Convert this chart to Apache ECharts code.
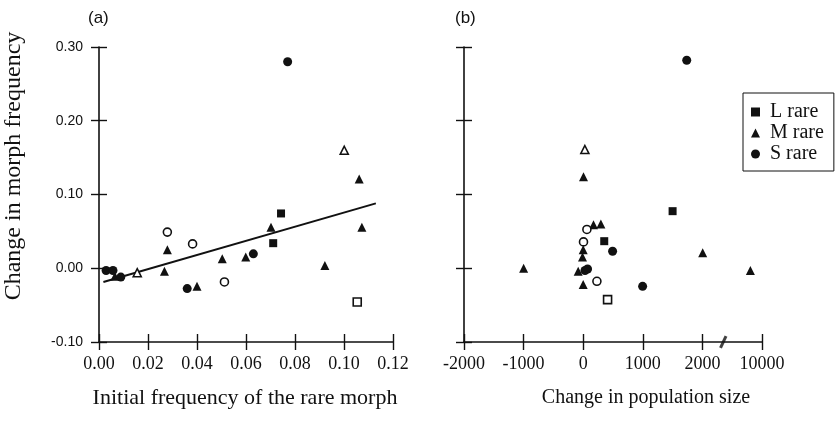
<!DOCTYPE html>
<html><head><meta charset="utf-8">
<script src="https://cdn.jsdelivr.net/npm/echarts@6/dist/echarts.min.js"></script>
<style>html,body{margin:0;padding:0;background:#fff}#c{width:839px;height:430px}</style>
</head><body><div id="c"></div>
<script>
// ---------- Panel (a): initial frequency of the rare morph vs change in morph frequency
const aLFilled = [[0.0743, 0.0743], [0.0711, 0.034]];
const aLOpen = [[0.1054, -0.0457]];
const aMFilled = [[0.0065, -0.011], [0.0267, -0.004], [0.0279, 0.025], [0.040, -0.0245], [0.0503, 0.013],
  [0.0599, 0.0154], [0.0702, 0.0557], [0.0922, 0.0036], [0.1062, 0.121], [0.1073, 0.0557]];
const aMOpen = [[0.0156, -0.006], [0.1001, 0.160]];
const aSFilled = [[0.0029, -0.003], [0.0057, -0.003], [0.0089, -0.012], [0.036, -0.0276], [0.063, 0.0195], [0.077, 0.28]];
const aSOpen = [[0.0279, 0.049], [0.0382, 0.033], [0.0512, -0.0186]];
const fitX = [0.0018, 0.113];
const fitY = [-0.0186, 0.088];

// ---------- Panel (b): change in population size vs change in morph frequency
const bLFilled = [[1500, 0.0774], [353, 0.0367]];
const bLOpen = [[409, -0.0425]];
const bMFilled = [[-1000, 0.0], [-84, -0.004], [-12, 0.0154], [0, 0.025], [0, -0.022], [5, 0.124],
  [173, 0.059], [297, 0.06], [2005, 0.021], [7700, -0.003]];
const bMOpen = [[28, 0.161]];
const bSFilled = [[73, -0.001], [30, -0.003], [493, 0.023], [997, -0.0245], [1737, 0.282]];
const bSOpen = [[62, 0.0526], [5, 0.0357], [230, -0.0177]];

// tick labels
const bXTickLabels = ['-2000', '-1000', '0', '1000', '2000', '10000'];
const legendNames = ['L rare', 'M rare', 'S rare'];

// broken x axis of panel (b): values above breakStart are compressed so that 10000 sits at the 3000 slot
const breakStart = 2350, breakEndReal = 10000, breakEndSlot = 3000;
function bx(v) {
  return v <= breakStart ? v : breakStart + (v - breakStart) * (breakEndSlot - breakStart) / (breakEndReal - breakStart);
}
const mapB = arr => arr.map(p => [bx(p[0]), p[1]]);

const SERIF = 'Liberation Serif';
const SANS = 'Liberation Sans';
const INK = '#111';

const chart = echarts.init(document.getElementById('c'), null, {renderer: 'canvas'});

function axisPair(pos, grid, min, max, interval, labelOpt) {
  const base = {
    gridIndex: grid, type: 'value', min: min, max: max, interval: interval, position: pos,
    splitLine: {show: false}
  };
  const outer = Object.assign({}, base, {
    axisLine: {show: true, onZero: false, lineStyle: {color: INK, width: 1.6}},
    axisTick: {show: true, inside: false, length: 8, lineStyle: {color: INK, width: 1.4}},
    axisLabel: labelOpt
  });
  const inner = Object.assign({}, base, {
    axisLine: {show: false, onZero: false},
    axisTick: {show: true, inside: true, length: 8, lineStyle: {color: INK, width: 1.4}},
    axisLabel: {show: false}
  });
  return [outer, inner];
}

const xA = axisPair('bottom', 0, 0, 0.12, 0.02, {
  show: true, margin: 13, color: INK, fontFamily: SERIF, fontSize: 18,
  formatter: v => v.toFixed(2)
});
const xB = axisPair('bottom', 1, -2000, 3000, 1000, {
  show: true, margin: 13, color: INK, fontFamily: SERIF, fontSize: 18,
  formatter: v => bXTickLabels[Math.round((v + 2000) / 1000)]
});
const yA = axisPair('left', 0, -0.1, 0.3, 0.1, {
  show: true, margin: 16, color: INK, fontFamily: SANS, fontSize: 14,
  formatter: v => v.toFixed(2)
});
const yB = axisPair('left', 1, -0.1, 0.3, 0.1, {show: false});

function filled(name, sym, size, data, xi, yi) {
  return {name: name, type: 'scatter', xAxisIndex: xi, yAxisIndex: yi, symbol: sym, symbolSize: size,
    data: data, itemStyle: {color: INK, opacity: 1}, z: 3};
}
function open(name, sym, size, data, xi, yi) {
  return {name: name, type: 'scatter', xAxisIndex: xi, yAxisIndex: yi, symbol: sym, symbolSize: size,
    data: data, itemStyle: {color: '#fff', borderColor: INK, borderWidth: 1.6, opacity: 1}, z: 4};
}

const option = {
  animation: false,
  backgroundColor: '#fff',
  grid: [
    {left: 99, top: 47, width: 294, height: 295},
    {left: 464, top: 47, width: 298, height: 295}
  ],
  xAxis: [xA[0], xA[1], xB[0], xB[1]],
  yAxis: [yA[0], yA[1], yB[0], yB[1]],
  legend: {
    orient: 'vertical', left: 743, top: 93,
    data: legendNames,
    itemWidth: 9, itemHeight: 9, itemGap: 1,
    padding: [9, 10, 7, 8],
    borderColor: INK, borderWidth: 1,
    textStyle: {fontFamily: SERIF, fontSize: 20, color: INK, lineHeight: 19, padding: [0, 0, 0, 5]},
    selectedMode: false
  },
  graphic: [
    {type: 'text', left: 88, top: 10, style: {text: '(a)', fontFamily: SANS, fontSize: 17, fill: INK}},
    {type: 'text', left: 455, top: 10, style: {text: '(b)', fontFamily: SANS, fontSize: 17, fill: INK}},
    {type: 'text', x: 14, y: 166, rotation: Math.PI / 2,
      style: {text: 'Change in morph frequency', fontFamily: SERIF, fontSize: 24, fill: INK,
        align: 'center', verticalAlign: 'middle'}},
    {type: 'text', x: 245, y: 398,
      style: {text: 'Initial frequency of the rare morph', fontFamily: SERIF, fontSize: 22, fill: INK,
        align: 'center', verticalAlign: 'middle'}},
    {type: 'text', x: 646, y: 398,
      style: {text: 'Change in population size', fontFamily: SERIF, fontSize: 20, fill: INK,
        align: 'center', verticalAlign: 'middle'}}
  ],
  series: [
    {name: 'fit', type: 'line', xAxisIndex: 0, yAxisIndex: 0, data: fitX.map((x, i) => [x, fitY[i]]),
      symbol: 'none', lineStyle: {color: INK, width: 2}, z: 2},
    filled('L rare', 'rect', 8, aLFilled, 0, 0),
    open('L rare open', 'rect', 8, aLOpen, 0, 0),
    filled('M rare', 'triangle', 9, aMFilled, 0, 0),
    open('M rare open', 'triangle', 8, aMOpen, 0, 0),
    filled('S rare', 'circle', 9, aSFilled, 0, 0),
    open('S rare open', 'circle', 8, aSOpen, 0, 0),
    filled('L rare', 'rect', 8, mapB(bLFilled), 2, 2),
    open('L rare open', 'rect', 8, mapB(bLOpen), 2, 2),
    filled('M rare', 'triangle', 9, mapB(bMFilled), 2, 2),
    open('M rare open', 'triangle', 8, mapB(bMOpen), 2, 2),
    filled('S rare', 'circle', 9, mapB(bSFilled), 2, 2),
    open('S rare open', 'circle', 8, mapB(bSOpen), 2, 2),
    {name: 'axis break', type: 'scatter', xAxisIndex: 2, yAxisIndex: 2, data: [[breakStart, -0.1]],
      symbol: 'rect', symbolSize: [3, 13], symbolRotate: -25, itemStyle: {color: INK}, z: 5, silent: true}
  ]
};
chart.setOption(option);
</script>
</body></html>
